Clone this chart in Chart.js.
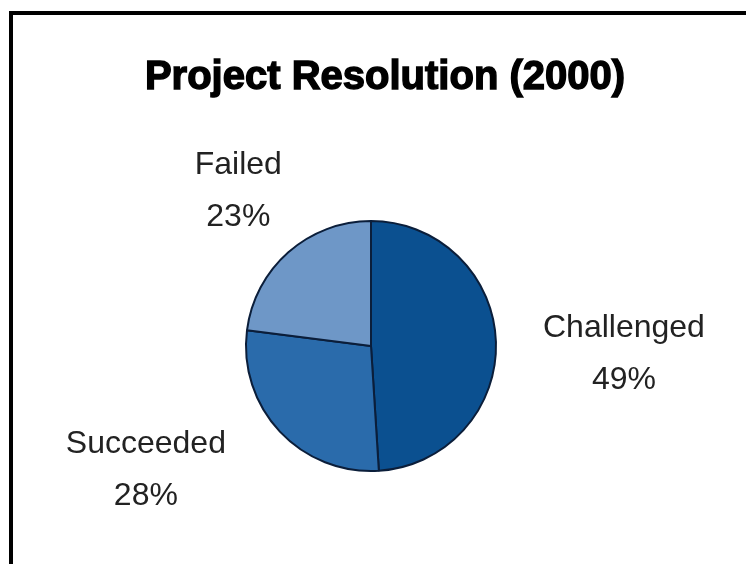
<!DOCTYPE html>
<html>
<head>
<meta charset="utf-8">
<title>Project Resolution (2000)</title>
<script src="https://cdn.jsdelivr.net/npm/chart.js@4/dist/chart.umd.min.js"></script>
<style>
  html, body { margin: 0; padding: 0; background: #fff; }
  #wrap { position: relative; width: 746px; height: 564px; overflow: hidden; }
  #frame {
    position: absolute; left: 9px; top: 11px; right: -10px; bottom: -10px;
    border-top: 4px solid #000; border-left: 4px solid #000;
  }
  canvas { position: absolute; left: 0; top: 0; }
</style>
</head>
<body>
<div id="wrap">
  <canvas id="myChart" width="746" height="564"></canvas>
  <div id="frame"></div>
</div>
<script>
// Project outcomes for 2000, in percent
const categories = ['Challenged', 'Succeeded', 'Failed'];
const shares = [49, 28, 23];
const sliceColors = ['#0b5090', '#2a6bab', '#6e97c7'];
const chartTitle = 'Project Resolution (2000)';

// where each label sits relative to the outer edge of its slice
const labelNudge = [[128, 12], [-134, 39], [-50, -61]];

// heavy title drawn above the pie
const titlePlugin = {
  id: 'heavyTitle',
  afterDraw(chart) {
    const ctx = chart.ctx;
    ctx.save();
    ctx.font = 'bold 40px "Liberation Sans", Arial, sans-serif';
    ctx.fillStyle = '#000';
    ctx.strokeStyle = '#000';
    ctx.lineWidth = 1.4;
    ctx.textAlign = 'center';
    ctx.textBaseline = 'middle';
    ctx.fillText(chartTitle, 385, 78);
    ctx.strokeText(chartTitle, 385, 78);
    ctx.restore();
  }
};

// category name and percentage next to each slice
const sliceLabels = {
  id: 'sliceLabels',
  afterDatasetsDraw(chart) {
    const ctx = chart.ctx;
    const meta = chart.getDatasetMeta(0);
    const values = chart.data.datasets[0].data;
    const total = values.reduce((a, b) => a + b, 0);
    ctx.save();
    ctx.font = '32px "Liberation Sans", Arial, sans-serif';
    ctx.fillStyle = '#222';
    ctx.textAlign = 'center';
    ctx.textBaseline = 'middle';
    meta.data.forEach((arc, i) => {
      const p = arc.getProps(['x', 'y', 'startAngle', 'endAngle', 'outerRadius'], true);
      const mid = (p.startAngle + p.endAngle) / 2;
      const x = p.x + Math.cos(mid) * p.outerRadius + labelNudge[i][0];
      const y = p.y + Math.sin(mid) * p.outerRadius + labelNudge[i][1];
      const pct = Math.round(values[i] / total * 100) + '%';
      ctx.fillText(chart.data.labels[i], x, y - 26);
      ctx.fillText(pct, x, y + 26);
    });
    ctx.restore();
  }
};

const ctx = document.getElementById('myChart').getContext('2d');

const myChart = new Chart(ctx, {
  type: 'pie',
  data: {
    labels: categories,
    datasets: [{
      data: shares,
      backgroundColor: sliceColors,
      borderColor: '#0b1e3a',
      borderWidth: 2
    }]
  },
  options: {
    responsive: false,
    animation: false,
    layout: {
      padding: { left: 245, right: 249, top: 219, bottom: 91 }
    },
    plugins: {
      legend: { display: false },
      tooltip: { enabled: false },
      title: { display: false }
    }
  },
  plugins: [sliceLabels, titlePlugin]
});
</script>
</body>
</html>
